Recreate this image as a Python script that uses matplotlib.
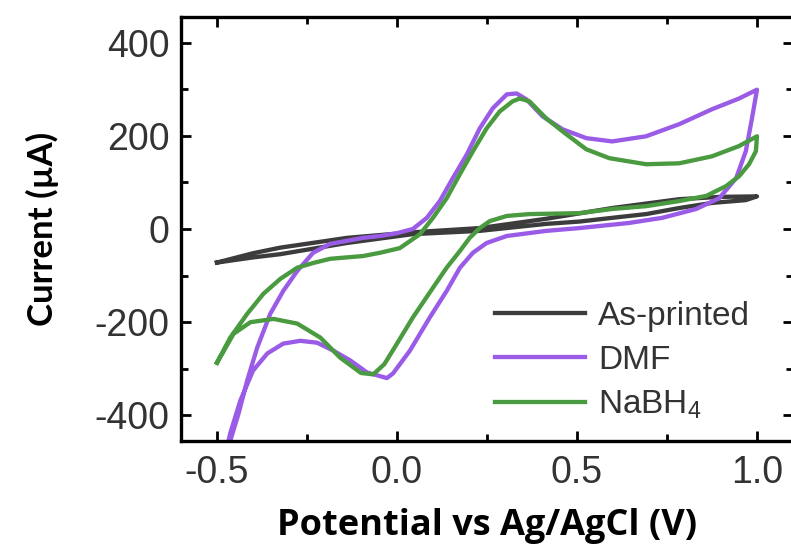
import matplotlib
matplotlib.use("Agg")
import matplotlib.pyplot as plt
from matplotlib.ticker import MultipleLocator

# potential (V) and current (uA), forward sweep then reverse sweep
asp_E = [-0.5, -0.4, -0.324, -0.2, -0.139, 0.044, 0.23, 0.415, 0.598, 0.784, 0.9, 1.0,
         0.969, 0.875, 0.784, 0.692, 0.598, 0.507, 0.415, 0.23, 0.044, -0.139, -0.324, -0.4, -0.5]
asp_I = [-72, -52, -40, -26, -19, -7, 2, 22, 45, 64, 69, 70,
         62, 56, 45, 32, 24, 16, 11, -4, -11, -30, -54, -61, -72]

dmf_E = [-0.5, -0.463, -0.44, -0.416, -0.388, -0.352, -0.316, -0.277, -0.233, -0.186, -0.094,
         -0.047, 0.0, 0.044, 0.083, 0.119, 0.155, 0.194, 0.230, 0.266, 0.305, 0.332, 0.360,
         0.404, 0.460, 0.526, 0.598, 0.692, 0.784, 0.875, 0.950, 1.0,
         0.986, 0.969, 0.942, 0.895, 0.831, 0.737, 0.645, 0.507, 0.415, 0.305, 0.249, 0.211,
         0.175, 0.138, 0.091, 0.036, -0.011, -0.028, -0.083, -0.130, -0.177, -0.222, -0.269,
         -0.316, -0.36, -0.40, -0.435, -0.463, -0.5]
dmf_I = [-560, -454, -396, -325, -254, -182, -133, -90, -51, -32, -19,
         -15, -9, 0, 24, 60, 109, 160, 216, 259, 289, 291, 278,
         242, 214, 195, 188, 199, 225, 257, 280, 299,
         237, 167, 109, 66, 43, 24, 13, 2, -4, -15, -30, -51,
         -83, -133, -190, -261, -310, -320, -308, -282, -261, -244, -240,
         -246, -267, -304, -368, -438, -560]

nab_E = [-0.5, -0.463, -0.416, -0.371, -0.324, -0.277, -0.233, -0.186, -0.094, -0.047, 0.008,
         0.064, 0.1, 0.138, 0.175, 0.211, 0.249, 0.285, 0.321, 0.341, 0.368, 0.415, 0.471,
         0.526, 0.59, 0.692, 0.784, 0.875, 0.95, 1.0,
         0.997, 0.978, 0.95, 0.914, 0.859, 0.784, 0.692, 0.598, 0.507, 0.368, 0.305, 0.258,
         0.230, 0.202, 0.175, 0.138, 0.1, 0.044, 0.0, -0.035, -0.066, -0.1, -0.158, -0.213,
         -0.277, -0.343, -0.407, -0.454, -0.5]
nab_I = [-287, -233, -182, -139, -107, -83, -73, -64, -58, -51, -41,
         -11, 24, 66, 118, 167, 216, 252, 274, 280, 274, 237, 203,
         171, 152, 139, 141, 156, 178, 199,
         167, 139, 113, 92, 71, 60, 49, 43, 34, 32, 28, 17,
         2, -19, -47, -83, -126, -190, -246, -290, -312, -309, -276, -233,
         -203, -193, -200, -225, -287]

labels = ["As-printed", "DMF", "NaBH$_\\mathregular{4}$"]
colors = ["#3c3c3c", "#9a5ce6", "#4a9a40"]

plt.rcParams["font.family"] = ["Liberation Sans", "DejaVu Sans"]
plt.rcParams["axes.unicode_minus"] = False

fig = plt.figure(figsize=(7.91, 5.47), dpi=100)
ax = fig.add_axes([0.2288, 0.1938, 0.7737, 0.7751])

for E, I, lab, c in zip([asp_E, dmf_E, nab_E], [asp_I, dmf_I, nab_I], labels, colors):
    ax.plot(E, I, color=c, lw=3.1, label=lab, solid_joinstyle="round")

ax.set_xlim(-0.6, 1.1)
ax.set_ylim(-455, 455)
ax.xaxis.set_major_locator(MultipleLocator(0.5))
ax.xaxis.set_minor_locator(MultipleLocator(0.25))
ax.yaxis.set_major_locator(MultipleLocator(200))
ax.yaxis.set_minor_locator(MultipleLocator(100))
ax.tick_params(which="both", direction="in", top=True, right=True, width=2,
               labelsize=27, labelcolor="#333333")
ax.tick_params(axis="y", pad=8)
ax.tick_params(axis="x", pad=10)
ax.tick_params(which="major", length=7)
ax.tick_params(which="minor", length=5)
for s in ax.spines.values():
    s.set_linewidth(2.4)

ax.set_xlabel("Potential vs Ag/AgCl (V)", fontsize=26, fontweight="bold",
              family="Open Sans", labelpad=12)
ax.set_ylabel("Current (\u00b5A)", fontsize=25, fontweight="bold",
              family="Lato", labelpad=26)

ax.legend(loc="upper left", bbox_to_anchor=(0.513, 0.33), frameon=False,
          fontsize=24, handlelength=2.7, handletextpad=0.4, labelspacing=0.38,
          borderpad=0, borderaxespad=0, labelcolor="#333333")

fig.savefig("out.png", dpi=100)
